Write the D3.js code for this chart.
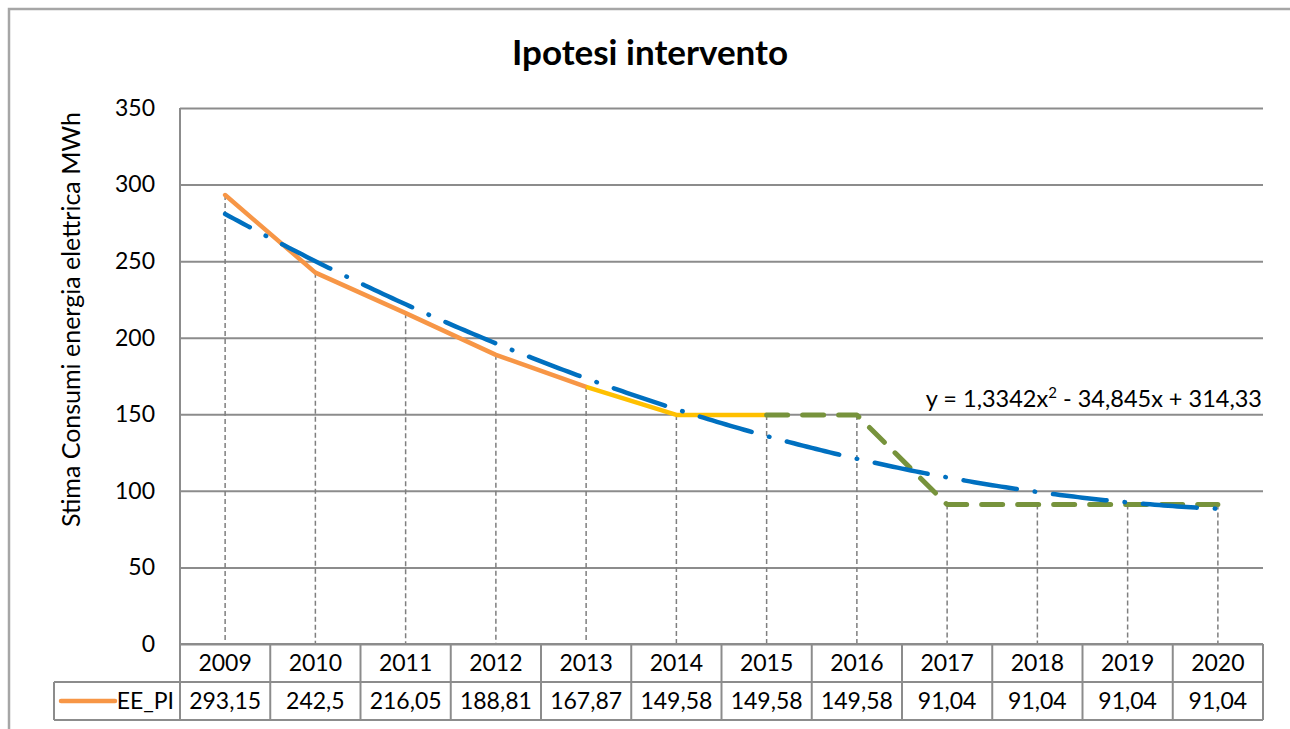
<!DOCTYPE html>
<html>
<head>
<meta charset="utf-8">
<script src="https://cdn.jsdelivr.net/npm/d3@7/dist/d3.min.js"></script>
<style>
  html, body { margin: 0; padding: 0; background: #fff; }
  svg { display: block; font-family: Lato, "Open Sans", sans-serif; }
</style>
</head>
<body>
<svg id="chart" width="1290" height="729"></svg>
<script>
// ---- data ----
const chartTitle = "Ipotesi intervento";
const yAxisTitle = "Stima Consumi energia elettrica MWh";
const seriesName = "EE_PI";
const years = ["2009","2010","2011","2012","2013","2014","2015","2016","2017","2018","2019","2020"];
const values = [293.15, 242.5, 216.05, 188.81, 167.87, 149.58, 149.58, 149.58, 91.04, 91.04, 91.04, 91.04];
const yTicks = [0, 50, 100, 150, 200, 250, 300, 350];
// polynomial trendline coefficients (a x^2 + b x + c), x = 1..12
const trendCoef = [1.3342, -34.845, 314.33];
const trendLabelParts = ["y = 1,3342x", "2", " - 34,845x + 314,33"];
// index ranges of the line segments (orange, yellow, green dashed)
const segOrange = [0, 4];
const segYellow = [4, 6];
const segGreen = [6, 11];

// ---- layout ----
const svg = d3.select("#chart");
const L = 180, R = 1263, T = 108, B = 644;
const rowH = 38;
const gridColor = "#8c8c8c";

const x = d3.scaleBand().domain(years).range([L, R]).padding(0);
const y = d3.scaleLinear().domain([0, 350]).range([B, T]);
const xc = d => x(d) + x.bandwidth() / 2;

// outer chart border
svg.append("path")
  .attr("d", `M9,780 L9,9 L1340,9`)
  .attr("fill", "none").attr("stroke", "#a6a6a6").attr("stroke-width", 2.5);

// title
svg.append("text")
  .attr("x", 650).attr("y", 65)
  .attr("text-anchor", "middle")
  .attr("font-weight", "bold").attr("font-size", 35)
  .attr("fill", "#000")
  .text(chartTitle);

// y axis title
svg.append("text")
  .attr("transform", `translate(80,${(T + 527) / 2 + 2}) rotate(-90)`)
  .attr("text-anchor", "middle")
  .attr("font-size", 25).attr("fill", "#000")
  .text(yAxisTitle);

// gridlines + tick labels
const yAxis = d3.axisLeft(y).tickValues(yTicks).tickSize(-(R - L)).tickPadding(25).tickFormat(d3.format("d"));
const gy = svg.append("g").attr("transform", `translate(${L},0)`).call(yAxis);
gy.select(".domain").remove();
gy.selectAll(".tick line").attr("stroke", gridColor).attr("stroke-width", 2);
gy.selectAll(".tick text").attr("font-size", 23).attr("fill", "#000").attr("font-family", "Lato, sans-serif");

// left axis line (through table)
svg.append("line").attr("x1", L).attr("x2", L).attr("y1", T).attr("y2", B + 2 * rowH)
  .attr("stroke", gridColor).attr("stroke-width", 2);

// drop lines
svg.append("g").selectAll("line").data(years).join("line")
  .attr("x1", d => xc(d)).attr("x2", d => xc(d))
  .attr("y1", (d, i) => y(values[i])).attr("y2", B)
  .attr("stroke", "#7f7f7f").attr("stroke-width", 1.5)
  .attr("stroke-dasharray", "5,3");

// series lines
const line = d3.line().x(d => xc(d.year)).y(d => y(d.v));
const pts = years.map((yr, i) => ({ year: yr, v: values[i] }));
function seg(r) { return pts.slice(r[0], r[1] + 1); }

svg.append("path").datum(seg(segOrange)).attr("d", line)
  .attr("fill", "none").attr("stroke", "#F79646").attr("stroke-width", 4.5)
  .attr("stroke-linejoin", "round").attr("stroke-linecap", "round");
svg.append("path").datum(seg(segYellow)).attr("d", line)
  .attr("fill", "none").attr("stroke", "#FFC000").attr("stroke-width", 4.5)
  .attr("stroke-linejoin", "round").attr("stroke-linecap", "butt");
svg.append("path").datum(seg(segGreen)).attr("d", line)
  .attr("fill", "none").attr("stroke", "#77933C").attr("stroke-width", 5)
  .attr("stroke-linejoin", "round").attr("stroke-linecap", "round")
  .attr("stroke-dasharray", "21,15");

// trendline
const trendX = d3.range(1, 12.0001, 0.05);
const xLin = d3.scaleLinear().domain([1, years.length]).range([xc(years[0]), xc(years[years.length - 1])]);
const trendLine = d3.line().x(t => xLin(t)).y(t => y(trendCoef[0] * t * t + trendCoef[1] * t + trendCoef[2]));
svg.append("path").datum(trendX).attr("d", trendLine)
  .attr("fill", "none").attr("stroke", "#0070C0").attr("stroke-width", 4.5)
  .attr("stroke-linecap", "round")
  .attr("stroke-dasharray", "54,18,0.5,18").attr("stroke-dashoffset", 26);

// trendline equation
const eq = svg.append("text")
  .attr("x", R - 1).attr("y", 407)
  .attr("text-anchor", "end").attr("font-size", 23.5).attr("fill", "#000");
eq.append("tspan").text(trendLabelParts[0]);
eq.append("tspan").attr("font-size", 15).attr("dy", -9).text(trendLabelParts[1]);
eq.append("tspan").attr("dy", 9).text(trendLabelParts[2]);

// ---- data table ----
const tbl = svg.append("g");
const legendLeft = 54;
// horizontal lines
tbl.append("line").attr("x1", L).attr("x2", R).attr("y1", B).attr("y2", B).attr("stroke", gridColor).attr("stroke-width", 2);
tbl.append("line").attr("x1", legendLeft).attr("x2", R).attr("y1", B + rowH).attr("y2", B + rowH).attr("stroke", gridColor).attr("stroke-width", 2);
tbl.append("line").attr("x1", legendLeft).attr("x2", R).attr("y1", B + 2 * rowH).attr("y2", B + 2 * rowH).attr("stroke", gridColor).attr("stroke-width", 2);
// vertical lines
tbl.selectAll("line.v").data(years).join("line").attr("class", "v")
  .attr("x1", d => x(d) + x.bandwidth()).attr("x2", d => x(d) + x.bandwidth())
  .attr("y1", B).attr("y2", B + 2 * rowH).attr("stroke", gridColor).attr("stroke-width", 2);
tbl.append("line").attr("x1", legendLeft).attr("x2", legendLeft).attr("y1", B + rowH).attr("y2", B + 2 * rowH)
  .attr("stroke", gridColor).attr("stroke-width", 2);

// category labels
tbl.selectAll("text.cat").data(years).join("text").attr("class", "cat")
  .attr("x", d => xc(d)).attr("y", B + rowH / 2)
  .attr("dy", "0.36em").attr("text-anchor", "middle")
  .attr("font-size", 23).attr("fill", "#000").text(d => d);
// values
tbl.selectAll("text.val").data(values).join("text").attr("class", "val")
  .attr("x", (d, i) => xc(years[i])).attr("y", B + rowH * 1.5)
  .attr("dy", "0.36em").attr("text-anchor", "middle")
  .attr("font-size", 23).attr("fill", "#000")
  .text(d => String(d).replace(".", ","));
// legend key
tbl.append("line").attr("x1", 61).attr("x2", 115).attr("y1", B + rowH * 1.5).attr("y2", B + rowH * 1.5)
  .attr("stroke", "#F79646").attr("stroke-width", 4.5).attr("stroke-linecap", "round");
tbl.append("text").attr("x", 174).attr("y", B + rowH * 1.5).attr("dy", "0.36em")
  .attr("text-anchor", "end").attr("font-size", 23).attr("fill", "#000").text(seriesName);
</script>
</body>
</html>
